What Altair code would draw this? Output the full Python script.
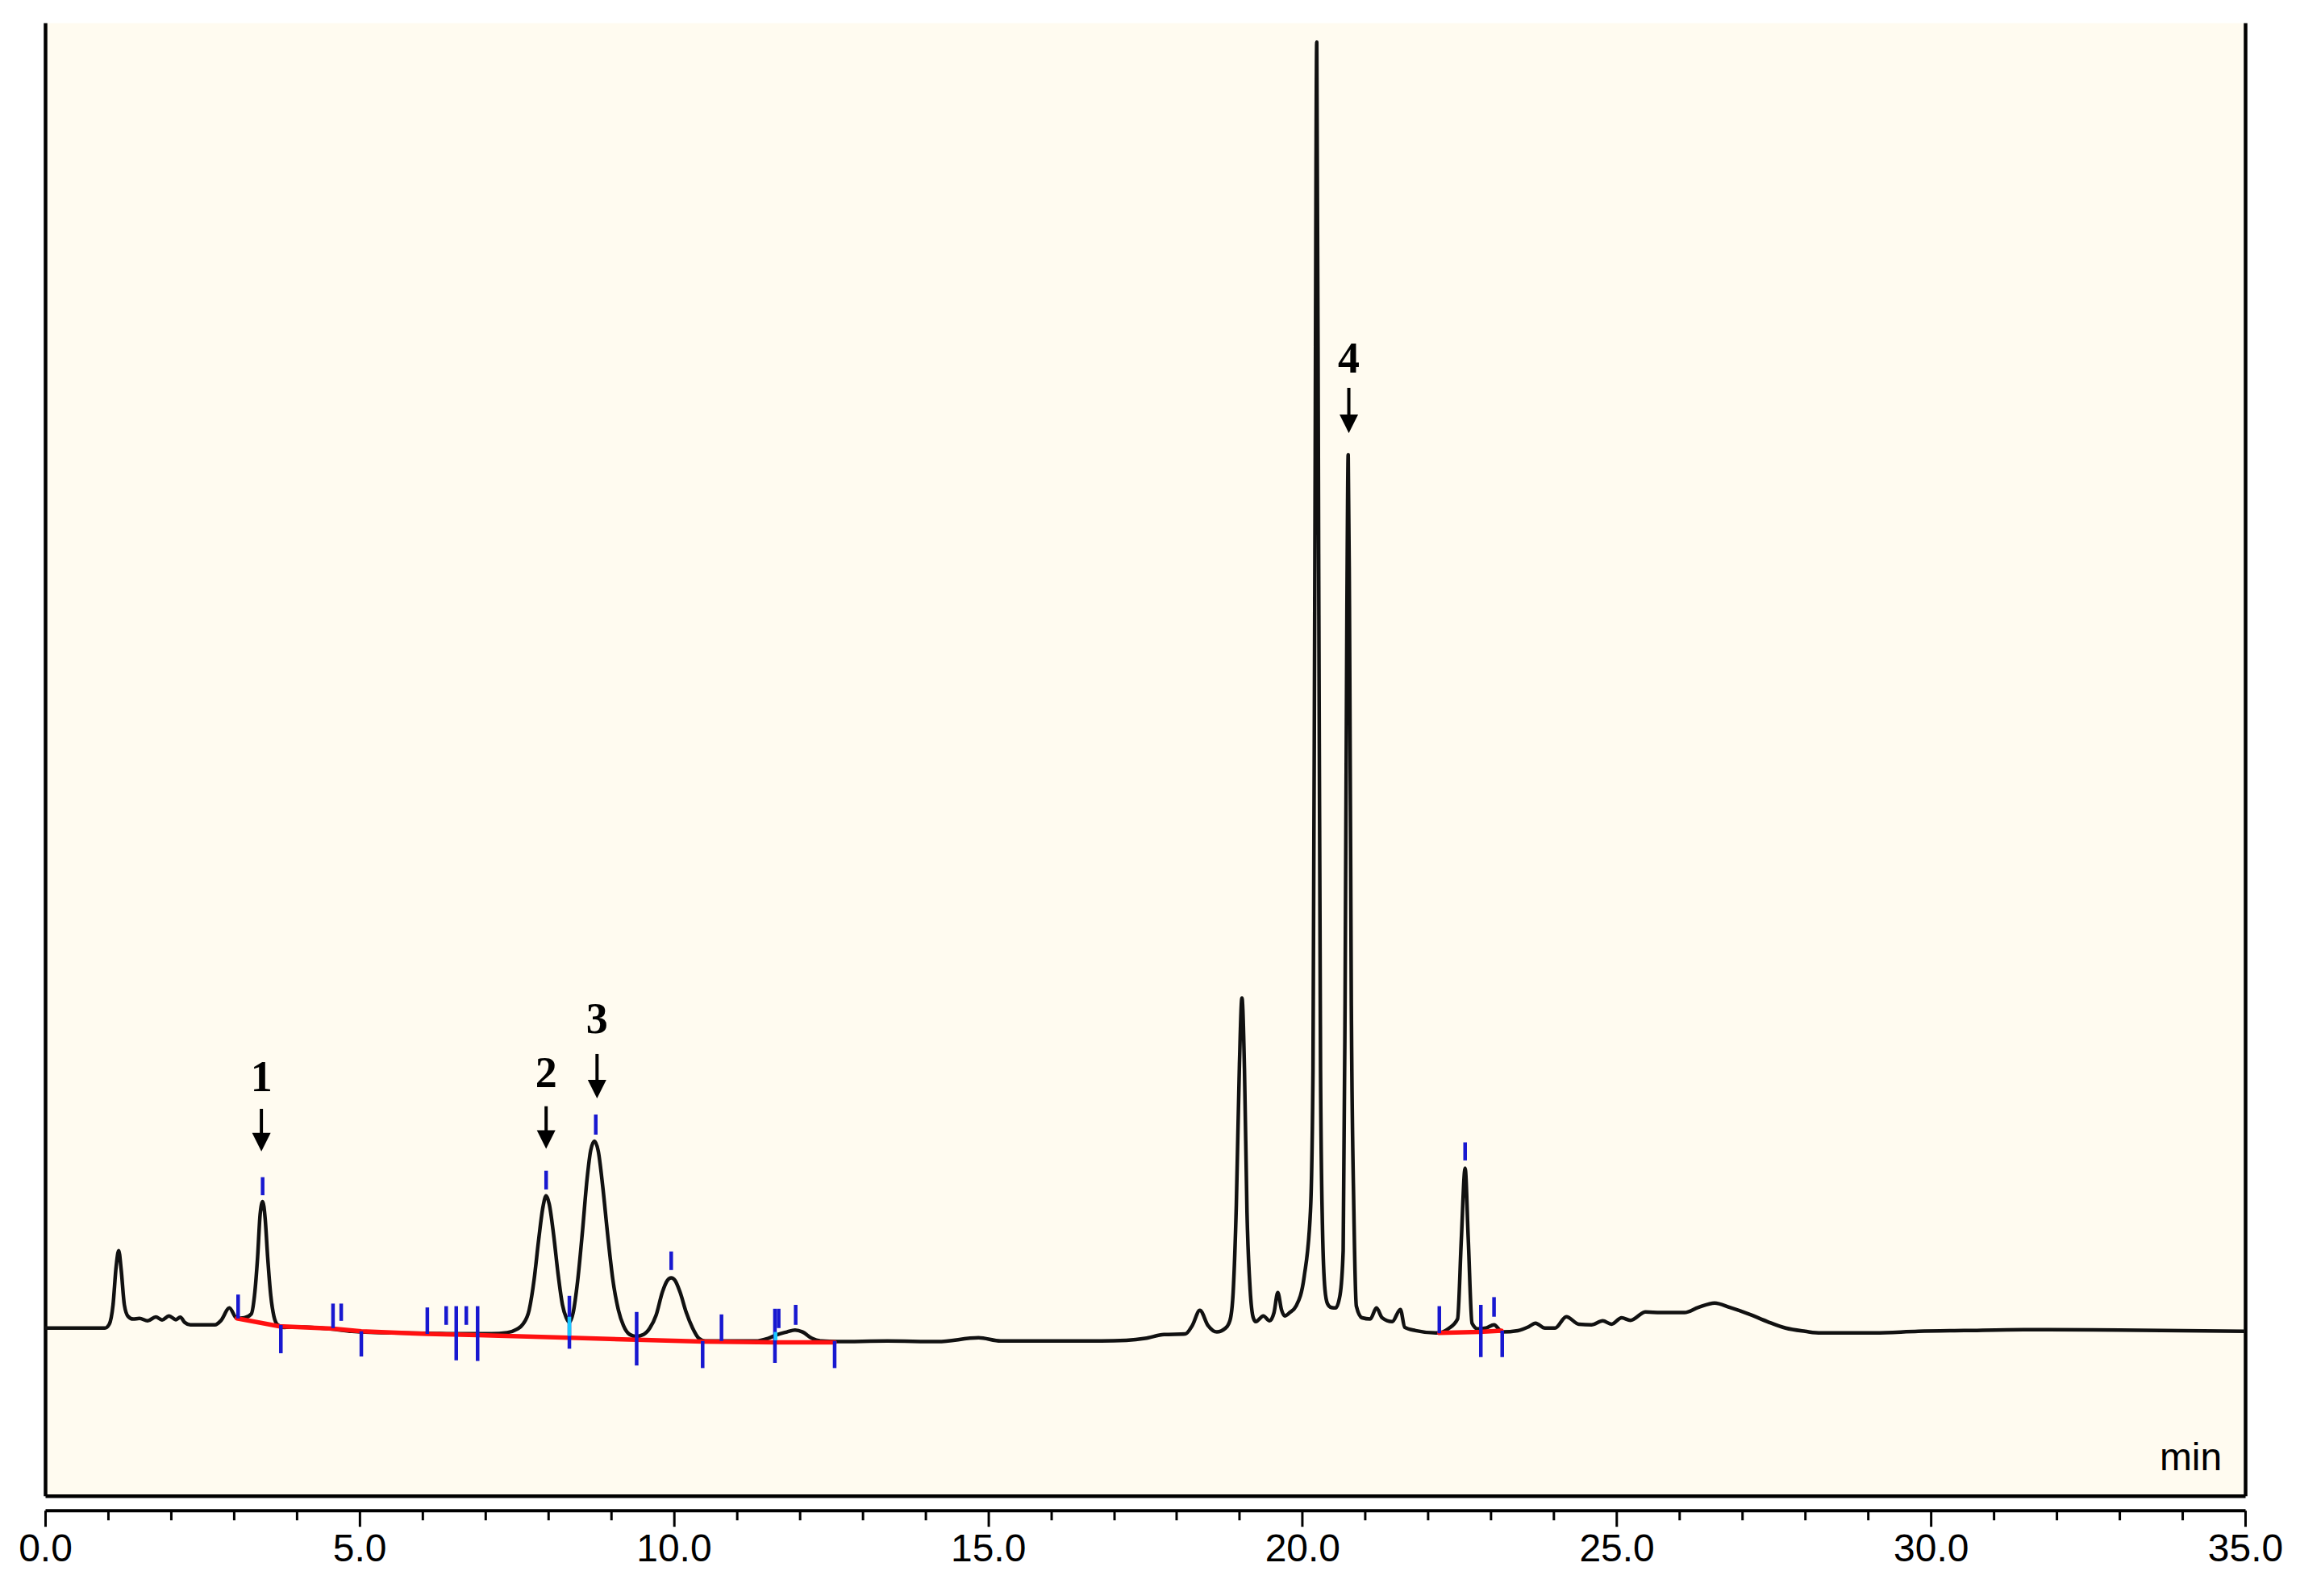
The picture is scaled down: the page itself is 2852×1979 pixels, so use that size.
import altair as alt
import pandas as pd

# ---------------- data ----------------
# chromatogram trace: retention time (min) and signal (arbitrary units, baseline = 0)
trace_t = [0.0, 0.5, 0.95, 1.02, 1.08, 1.13, 1.17, 1.21, 1.26, 1.32, 1.40, 1.50, 1.63, 1.76, 1.86,
           1.97, 2.08, 2.15, 2.22, 2.31, 2.50, 2.70, 2.80, 2.93, 3.05, 3.17, 3.28, 3.33, 3.38, 3.42,
           3.46, 3.50, 3.54, 3.59, 3.64, 3.70, 3.80, 4.02, 4.54, 4.88, 5.54, 6.08, 6.60, 7.10, 7.35,
           7.50, 7.60, 7.70, 7.78, 7.85, 7.92, 7.97, 8.02, 8.09, 8.16, 8.23, 8.29, 8.34, 8.40, 8.47,
           8.55, 8.62, 8.68, 8.74, 8.80, 8.87, 8.95, 9.03, 9.12, 9.20, 9.30, 9.40, 9.52, 9.62, 9.72,
           9.82, 9.90, 9.96, 10.02, 10.10, 10.20, 10.30, 10.40, 10.50, 10.95, 11.30, 11.50, 11.65,
           11.80, 11.93, 12.05, 12.20, 12.35, 12.60, 13.40, 14.20, 14.85, 15.20, 16.00, 16.80, 17.20,
           17.50, 17.80, 18.14, 18.25, 18.37, 18.50, 18.64, 18.78, 18.85, 18.90, 18.95, 19.00, 19.04,
           19.08, 19.12, 19.17, 19.22, 19.26, 19.38, 19.48, 19.55, 19.61, 19.67, 19.72, 19.80, 19.90,
           20.03, 20.13, 20.17, 20.20, 20.23, 20.26, 20.29, 20.32, 20.36, 20.40, 20.46, 20.53, 20.60,
           20.65, 20.68, 20.71, 20.73, 20.75, 20.78, 20.82, 20.86, 20.95, 21.08, 21.18, 21.27, 21.43,
           21.56, 21.63, 21.80, 22.15, 22.32, 22.47, 22.53, 22.59, 22.64, 22.70, 22.79, 22.92, 23.05,
           23.18, 23.43, 23.60, 23.71, 23.86, 24.02, 24.20, 24.40, 24.60, 24.78, 24.92, 25.08, 25.22,
           25.46, 25.70, 26.08, 26.30, 26.56, 26.80, 27.12, 27.40, 27.69, 28.00, 28.25, 29.11, 29.80,
           30.53, 31.47, 33.00, 35.00]
trace_v = [0, 0, 0, 3, 18, 48, 60, 45, 18, 9, 7, 7.5, 5.6, 8.7, 6.3,
           9.4, 6.5, 8.5, 4.4, 2.5, 2.5, 2.5, 6, 15.6, 7.5, 8, 11, 25, 55, 88,
           98, 85, 55, 25, 9, 2.5, 0.5, 1, -0.6, -2.5, -3.8, -4, -4.4, -4.4, -3.5,
           -1, 3, 14, 38, 68, 94, 102.5, 96, 72, 42, 18, 8, 4.4, 12, 36,
           76, 115, 138, 145, 137, 110, 72, 38, 14, 2, -5, -6.5, -5, 0, 10,
           28, 37, 39, 37, 28, 12, 0, -8, -10, -10, -10, -8, -5,
           -3, -1.5, -3, -8, -10, -10.5, -10, -10.5, -7.5, -10, -10, -10, -9.5,
           -8, -5, -4.5, 2, 13.8, 2, -3, 0, 6, 28, 95, 205, 256,
           200, 90, 30, 8, 5, 9.4, 5.6, 12, 27.5, 14, 9.4, 12, 17,
           40, 91, 200, 600, 997, 600, 200, 80, 30, 19, 16, 15.6, 25.6,
           60, 250, 560, 677, 560, 250, 91, 17, 8, 7, 15.6, 8, 5,
           14.4, 0.6, -1.9, -3.8, -0.6, 7, 69, 124, 69, 3.8, -0.6, 0, 2.5,
           -3, -2, 1, 3.8, 0, 0, 8.8, 3, 2.5, 5.6, 3, 8, 6,
           12.5, 12, 12, 16, 19.4, 16, 10.6, 5, 0, -2.5, -3.8, -3.8, -2.5,
           -1.9, -1.2, -1.5, -2.5]

# integration baselines (red)
base_seg = ["A"] * 11 + ["B"] * 3
base_t = [3.05, 3.72, 4.58, 5.03, 6.08, 6.88, 8.34, 9.41, 10.46, 11.62, 12.56,
          22.18, 22.82, 23.17]
base_v = [7.5, 1.5, -0.5, -2.5, -4.5, -5.5, -7.5, -9.0, -10.5, -11.0, -11.0,
          -3.8, -3.0, -2.0]

# peak start / end markers (blue)
mark_t = [3.07, 3.75, 4.58, 4.71, 5.03, 6.08, 6.38, 6.54, 6.70, 6.88, 8.34, 9.41, 10.46,
          10.76, 11.61, 11.67, 11.94, 12.56, 22.18, 22.84, 23.05, 23.18,
          3.46, 7.97, 8.76, 9.96, 22.59]
mark_top = [26, 2.5, 19, 19, -2.5, 16, 17, 17, 17, 17, 25, 12.5, -10,
            10.6, 15, 15, 18, -10, 17, 18, 24, -2,
            117, 122, 165.6, 59.4, 144]
mark_bot = [7.5, -19.5, 0, 5.6, -22, -4.5, 2.5, -25, 2.5, -25.5, -16, -29, -31,
            -10, -27, 0, 2.5, -31, -4, -22.5, 8.8, -22.5,
            103, 107.5, 150, 45, 130]

# perpendicular drops (cyan)
drop_t = [8.34, 11.62]
drop_top = [8.8, -3.0]
drop_bot = [-6.0, -9.5]

# numbered peak annotations
ann_label = ["1", "2", "3", "4"]
ann_t = [3.44, 7.97, 8.78, 20.74]
ann_text_v = [184, 187, 229, 741]
ann_shaft_top = [170, 172, 212.5, 729]
ann_tip = [137, 139, 178, 694]

major_ticks = [0, 5, 10, 15, 20, 25, 30, 35]
minor_ticks = [1, 2, 3, 4, 6, 7, 8, 9, 11, 12, 13, 14, 16, 17, 18, 19, 21, 22, 23, 24,
               26, 27, 28, 29, 31, 32, 33, 34]
unit_label = "min"

# ---------------- tables ----------------
trace = pd.DataFrame({"t": trace_t, "v": trace_v})
base = pd.DataFrame({"seg": base_seg, "t": base_t, "v": base_v})
marks = pd.DataFrame({"t": mark_t, "top": mark_top, "bot": mark_bot})
drops = pd.DataFrame({"t": drop_t, "top": drop_top, "bot": drop_bot})
ann = pd.DataFrame({"label": ann_label, "t": ann_t, "tv": ann_text_v,
                    "s": ann_shaft_top, "tip": ann_tip})
ann["head"] = ann["tip"] + 7.2
unit = pd.DataFrame({"t": [34.63], "v": [-110], "label": [unit_label]})

W, H = 2729, 1827
xs = alt.Scale(domain=[0, 35], nice=False, zero=False)
ys = alt.Scale(domain=[-130, 1012], nice=False, zero=False)

ax_major = alt.Axis(orient="bottom", offset=18, values=major_ticks, format=".1f", title=None,
                    domainColor="black", domainWidth=4, tickColor="black", tickWidth=3,
                    tickSize=20, labelFont="Liberation Sans", labelFontSize=48,
                    labelColor="black", labelPadding=5, labelFlush=False, labelOverlap=False,
                    grid=False)
ax_minor = alt.Axis(orient="bottom", offset=18, values=minor_ticks, title=None, labels=False,
                    domain=False, tickColor="black", tickWidth=3, tickSize=12, grid=False)
ax_frame_bottom = alt.Axis(orient="bottom", offset=0, title=None, labels=False, ticks=False,
                           domainColor="black", domainWidth=4.5, grid=False)
ay_left = alt.Axis(orient="left", title=None, labels=False, ticks=False, domainColor="black",
                   domainWidth=4.5, grid=False)
ay_right = alt.Axis(orient="right", title=None, labels=False, ticks=False, domainColor="black",
                    domainWidth=4.5, grid=False)

line = alt.Chart(trace).mark_line(color="#111111", strokeWidth=4.5, interpolate="monotone",
                                  strokeJoin="round").encode(
    x=alt.X("t:Q", scale=xs, axis=ax_major),
    y=alt.Y("v:Q", scale=ys, axis=ay_left),
    order="t:Q",
)

red = alt.Chart(base).mark_line(color="#FF1010", strokeWidth=5.5, strokeCap="round").encode(
    x=alt.X("t:Q", scale=xs, axis=ax_minor),
    y=alt.Y("v:Q", scale=ys, axis=ay_right),
    detail="seg:N",
    order="t:Q",
)

blue = alt.Chart(marks).mark_rule(color="#1818D0", strokeWidth=4.5).encode(
    x=alt.X("t:Q", scale=xs, axis=ax_frame_bottom),
    y=alt.Y("top:Q", scale=ys, axis=None),
    y2="bot:Q",
)

cyan = alt.Chart(drops).mark_rule(color="#19C8FF", strokeWidth=4.5).encode(
    x=alt.X("t:Q", scale=xs, axis=None),
    y=alt.Y("top:Q", scale=ys, axis=None),
    y2="bot:Q",
)

shaft = alt.Chart(ann).mark_rule(color="black", strokeWidth=4).encode(
    x=alt.X("t:Q", scale=xs, axis=None),
    y=alt.Y("s:Q", scale=ys, axis=None),
    y2="head:Q",
)

head = alt.Chart(ann).mark_point(shape="M-1,-1L1,-1L0,1Z", filled=True, size=529,
                                 color="black", opacity=1, strokeWidth=0).encode(
    x=alt.X("t:Q", scale=xs, axis=None),
    y=alt.Y("head:Q", scale=ys, axis=None),
)

labels = alt.Chart(ann).mark_text(font="Liberation Serif", fontWeight="bold", fontSize=54,
                                  color="black", align="center", baseline="alphabetic").encode(
    x=alt.X("t:Q", scale=xs, axis=None),
    y=alt.Y("tv:Q", scale=ys, axis=None),
    text="label:N",
)

unit_text = alt.Chart(unit).mark_text(font="Liberation Sans", fontSize=48, color="black",
                                      align="right", baseline="alphabetic").encode(
    x=alt.X("t:Q", scale=xs, axis=None),
    y=alt.Y("v:Q", scale=ys, axis=None),
    text="label:N",
)

chart = alt.layer(line, red, blue, cyan, shaft, head, labels, unit_text).resolve_axis(
    x="independent", y="independent"
).properties(
    width=W, height=H,
    autosize=alt.AutoSizeParams(type="none"),
    padding={"left": 48, "top": 20, "right": 60, "bottom": 110},
    background="white",
).configure_view(fill="#FFFBF0", stroke="transparent")

chart.save("out.html", embed_options={"renderer": "svg", "actions": False})
